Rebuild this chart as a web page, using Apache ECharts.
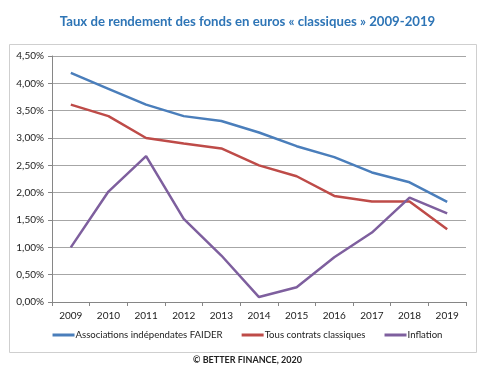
<!DOCTYPE html>
<html><head><meta charset="utf-8">
<script src="https://cdn.jsdelivr.net/npm/echarts@6/dist/echarts.min.js"></script>
<style>html,body{margin:0;padding:0;background:#fff}#c{width:495px;height:371px}</style>
</head><body><div id="c"></div>
<script>
const years = ['2009','2010','2011','2012','2013','2014','2015','2016','2017','2018','2019'];
const faider = [4.19,3.90,3.61,3.40,3.31,3.10,2.85,2.65,2.37,2.19,1.83];
const classiques = [3.61,3.40,3.00,2.90,2.81,2.50,2.30,1.94,1.84,1.84,1.33];
const inflation = [1.00,2.02,2.67,1.52,0.85,0.09,0.27,0.82,1.27,1.91,1.62];
const seriesNames = ['Associations indépendates FAIDER','Tous contrats classiques','Inflation'];
const colors = ['#4A7EBB','#BE4B48','#7E5F9E'];
const font = 'Lato, "Open Sans", sans-serif';

const chart = echarts.init(document.getElementById('c'));
chart.setOption({
  animation:false,
  title:{text:'Taux de rendement des fonds en euros « classiques » 2009-2019',left:'center',top:10,
    textStyle:{color:'#2E75B6',fontFamily:font,fontWeight:'bold',fontSize:13.2}},
  graphic:[{type:'rect',shape:{x:9.5,y:44.5,width:467,height:308},style:{fill:'none',stroke:'#cfcfcf',lineWidth:1},z:-1},
    {type:'text',left:'center',top:356,style:{text:'© BETTER FINANCE, 2020',fill:'#222',font:'bold 9px '+font}}],
  grid:{left:52,right:29,top:56,bottom:69},
  legend:{bottom:26,left:'center',itemGap:19,itemWidth:22,itemHeight:3,icon:'rect',
    textStyle:{fontFamily:font,fontSize:9.6,color:'#222',padding:[0,0,0,-4]},
    data:seriesNames},
  xAxis:{type:'category',data:years,boundaryGap:true,
    axisLine:{lineStyle:{color:'#868686'}},axisTick:{show:true,length:4,lineStyle:{color:'#868686'}},
    axisLabel:{fontFamily:font,fontSize:10,color:'#222',margin:9}},
  yAxis:{type:'value',min:0,max:4.5,interval:0.5,
    axisLine:{show:true,lineStyle:{color:'#868686'}},axisTick:{show:true,length:4,lineStyle:{color:'#868686'}},
    splitLine:{lineStyle:{color:'#a6a6a6',width:1}},
    axisLabel:{fontFamily:font,fontSize:10,color:'#222',margin:8,formatter:v=>v.toFixed(2).replace('.',',')+'%'}},
  series:[
    {name:seriesNames[0],type:'line',data:faider,symbol:'none',lineStyle:{width:2.5,color:colors[0]},itemStyle:{color:colors[0]}},
    {name:seriesNames[1],type:'line',data:classiques,symbol:'none',lineStyle:{width:2.5,color:colors[1]},itemStyle:{color:colors[1]}},
    {name:seriesNames[2],type:'line',data:inflation,symbol:'none',lineStyle:{width:2.5,color:colors[2]},itemStyle:{color:colors[2]}}
  ]
});
</script></body></html>
